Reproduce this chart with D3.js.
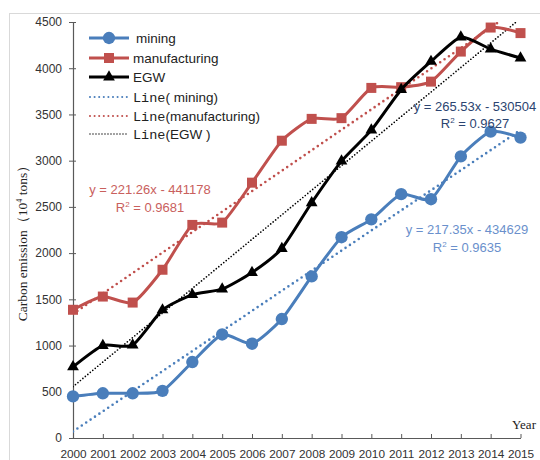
<!DOCTYPE html>
<html>
<head>
<meta charset="utf-8">
<script src="https://cdn.jsdelivr.net/npm/d3@7"></script>
<style>
  html, body { margin: 0; padding: 0; background: #fff; }
  svg { display: block; }
</style>
</head>
<body>
<svg id="chart" width="540" height="460"></svg>
<script>
// Carbon emission by industry sector, 2000–2015 (10^4 tons)
const years = d3.range(2000, 2016);
const mining = [450, 484, 484, 510, 822, 1120, 1020, 1287, 1748, 2172, 2365, 2638, 2583, 3046, 3314, 3250];
const manufacturing = [1387, 1530, 1465, 1820, 2305, 2330, 2762, 3216, 3452, 3460, 3787, 3795, 3855, 4180, 4440, 4380];
const egw = [770, 1000, 1005, 1385, 1550, 1610, 1790, 2050, 2545, 2995, 3330, 3768, 4073, 4336, 4207, 4110];

const seriesNames = ["mining", "manufacturing", "EGW"];
const trendNames = ["Line( mining)", "Line(manufacturing)", "Line(EGW )"];
// Linear trend fits: y = slope * year + intercept
const trendSlopes = [217.35, 221.26, 265.53];
const trendIntercepts = [-434629, -441178, -530504];
const trendR2 = ["0.9635", "0.9681", "0.9627"];
const yTicks = [0, 500, 1000, 1500, 2000, 2500, 3000, 3500, 4000, 4500];

const colors = ["#4a7ebb", "#c0504d", "#000000"];
const eqColors = ["#6a90cc", "#c9605d", "#2b4470"];

const svg = d3.select("#chart");
const W = 540, H = 460;

// outer chart frame
svg.append("rect").attr("x", 9.5).attr("y", 13.5).attr("width", W).attr("height", H)
  .attr("fill", "#fff").attr("stroke", "#d9d9d9").attr("stroke-width", 1);

const x = d3.scaleLinear().domain([2000, 2015]).range([73, 520.5]);
const y = d3.scaleLinear().domain([0, 4500]).range([438, 22]);

svg.append("defs").append("clipPath").attr("id", "plotClip")
  .append("rect").attr("x", 73).attr("y", 22).attr("width", 448).attr("height", 416);

// y axis
const yAxis = svg.append("g").attr("transform", "translate(73,0)")
  .call(d3.axisLeft(y).tickValues(yTicks).tickSize(4).tickPadding(7).tickFormat(d3.format("d")));
yAxis.select(".domain").attr("stroke", "#595959").attr("stroke-width", 1.2);
yAxis.selectAll(".tick line").attr("stroke", "#595959").attr("x2", -4).attr("x1", 3);
yAxis.selectAll(".tick text").attr("font-family", "Liberation Sans, Arial, sans-serif")
  .attr("font-size", 12).attr("fill", "#333");

// x axis with inward ticks
const xAxis = svg.append("g").attr("transform", "translate(0,438)")
  .call(d3.axisBottom(x).tickValues(years).tickSize(-4).tickSizeOuter(0).tickPadding(12).tickFormat(d3.format("d")));
xAxis.select(".domain").attr("stroke", "#595959").attr("stroke-width", 1.2);
xAxis.selectAll(".tick line").attr("stroke", "#595959");
xAxis.selectAll(".tick text").attr("font-family", "Liberation Sans, Arial, sans-serif")
  .attr("font-size", 11.8).attr("fill", "#333");

// axis titles
svg.append("text")
  .attr("transform", "translate(27,240) rotate(-90)")
  .attr("text-anchor", "middle")
  .attr("font-family", "Liberation Serif, Times New Roman, serif")
  .attr("font-size", 13.5).attr("fill", "#222")
  .call(t => {
    t.append("tspan").text("Carbon emission（10");
    t.append("tspan").attr("font-size", 8).attr("dy", -5).text("4");
    t.append("tspan").attr("dy", 5).text(" tons）");
  });
svg.append("text").attr("x", 512).attr("y", 429)
  .attr("font-family", "Liberation Serif, Times New Roman, serif")
  .attr("font-size", 13).attr("fill", "#222").text("Year");

const plot = svg.append("g").attr("clip-path", "url(#plotClip)");

// trend lines (drawn beneath the data series)
const dash = [["0 5.3", 2.6], ["0 5.3", 2.6], ["0 3.2", 1.7]];
trendSlopes.forEach((s, i) => {
  const f = yr => s * yr + trendIntercepts[i];
  plot.append("line")
    .attr("x1", x(2000)).attr("y1", y(f(2000)))
    .attr("x2", x(2015)).attr("y2", y(f(2015)))
    .attr("stroke", colors[i]).attr("stroke-width", dash[i][1])
    .attr("stroke-dasharray", dash[i][0]).attr("stroke-linecap", "round");
});

const allSeries = [mining, manufacturing, egw];
const symbols = [d3.symbolCircle, d3.symbolSquare, d3.symbolTriangle];
const symSizes = [120, 100, 60];
const line = d3.line().x((d, i) => x(years[i])).y(d => y(d)).curve(d3.curveCardinal.tension(0.4));

allSeries.forEach((vals, i) => {
  const g = svg.append("g");
  g.append("path").attr("d", line(vals)).attr("fill", "none")
    .attr("stroke", colors[i]).attr("stroke-width", 3).attr("stroke-linejoin", "round");
  g.selectAll("path.m").data(vals).join("path").attr("class", "m")
    .attr("transform", (d, j) => `translate(${x(years[j])},${y(d)})`)
    .attr("d", d3.symbol(symbols[i], symSizes[i]))
    .attr("fill", colors[i]);
});

// trend equations
const eqPos = [[467, 234, 252], [150, 194, 212], [475, 111, 128]];
trendSlopes.forEach((s, i) => {
  const txt = `y = ${s}x - ${-trendIntercepts[i]}`;
  const [cx, y1, y2] = eqPos[i];
  svg.append("text").attr("x", cx).attr("y", y1).attr("text-anchor", "middle")
    .attr("font-family", "Liberation Sans, Arial, sans-serif").attr("font-size", 13)
    .attr("fill", eqColors[i]).text(txt);
  svg.append("text").attr("x", cx).attr("y", y2).attr("text-anchor", "middle")
    .attr("font-family", "Liberation Sans, Arial, sans-serif").attr("font-size", 13)
    .attr("fill", eqColors[i])
    .call(t => {
      t.append("tspan").text("R");
      t.append("tspan").attr("font-size", 8).attr("dy", -5).text("2");
      t.append("tspan").attr("dy", 5).text(` = ${trendR2[i]}`);
    });
});

// legend
const legY = [38, 58, 77, 97, 116, 134];
const legFont = "Liberation Sans, Arial, sans-serif";
seriesNames.forEach((n, i) => {
  const yy = legY[i];
  svg.append("line").attr("x1", 89).attr("x2", 129).attr("y1", yy).attr("y2", yy)
    .attr("stroke", colors[i]).attr("stroke-width", 3);
  svg.append("path").attr("transform", `translate(109,${yy})`)
    .attr("d", d3.symbol(symbols[i], symSizes[i])).attr("fill", colors[i]);
  svg.append("text").attr("x", i === 0 ? 136 : 133).attr("y", yy + 4.5)
    .attr("font-family", legFont).attr("font-size", 13.5).attr("fill", "#222").text(n);
});
trendNames.forEach((n, i) => {
  const yy = legY[i + 3];
  svg.append("line").attr("x1", 90).attr("x2", 127).attr("y1", yy).attr("y2", yy)
    .attr("stroke", colors[i]).attr("stroke-width", dash[i][1] * 0.8)
    .attr("stroke-dasharray", i === 2 ? "0 3" : "0 4.6").attr("stroke-linecap", "round");
  const t = svg.append("text").attr("x", 133).attr("y", yy + 4.5)
    .attr("font-family", legFont).attr("font-size", 13.5).attr("fill", "#222");
  t.append("tspan").attr("font-family", "Liberation Mono, Courier New, monospace").text("Line");
  t.append("tspan").text(n.slice(4));
});
</script>
</body>
</html>
